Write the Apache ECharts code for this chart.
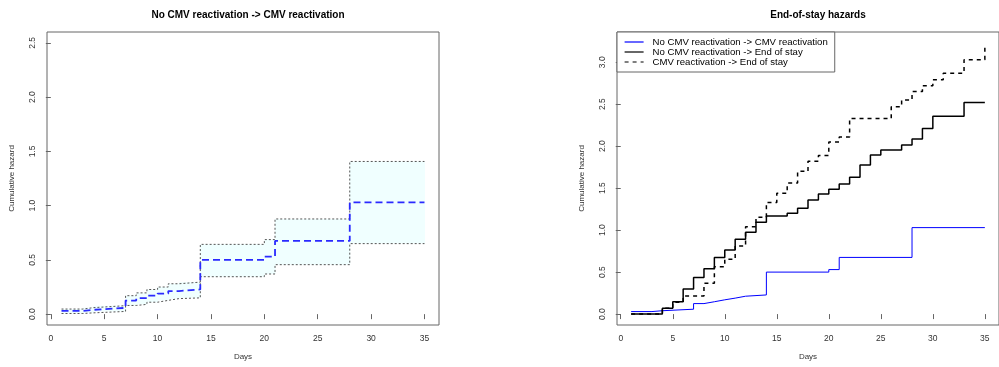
<!DOCTYPE html>
<html>
<head>
<meta charset="utf-8">
<title>Cumulative hazards</title>
<script src="https://cdn.jsdelivr.net/npm/echarts@6/dist/echarts.min.js"></script>
<style>
  html, body { margin: 0; padding: 0; background: #fff; }
  #chart { width: 999px; height: 367px; }
</style>
</head>
<body>
<div id="chart"></div>
<script>
// tick labels
const xTicks = [0, 5, 10, 15, 20, 25, 30, 35];
const yTicksLeft = [0, 0.5, 1, 1.5, 2, 2.5];
const yTicksRight = [0, 0.5, 1, 1.5, 2, 2.5, 3];

// No CMV reactivation -> CMV reactivation (estimate + confidence band)
const reactTimes  = [1, 3, 4, 7, 8, 9, 10, 11, 12, 14, 20, 21, 28, 35];
const reactHazard = [0.03, 0.04, 0.058, 0.125, 0.147, 0.17, 0.19, 0.213, 0.228, 0.5, 0.53, 0.675, 1.03, 1.03];
const reactLower  = [0.006, 0.012, 0.025, 0.08, 0.09, 0.11, 0.127, 0.143, 0.15, 0.345, 0.37, 0.456, 0.65, 0.65];
const reactUpper  = [0.047, 0.06, 0.078, 0.17, 0.196, 0.227, 0.25, 0.28, 0.295, 0.643, 0.687, 0.877, 1.407, 1.407];

// No CMV reactivation -> End of stay
const noReactEndTimes  = [1, 4, 5, 6, 7, 8, 9, 10, 11, 12, 13, 14, 16, 17, 18, 19, 20, 21, 22, 23, 24, 25, 27, 28, 29, 30, 33, 35];
const noReactEndHazard = [0, 0.07, 0.147, 0.298, 0.435, 0.54, 0.675, 0.763, 0.89, 0.974, 1.093, 1.168, 1.2, 1.26, 1.36, 1.43, 1.486, 1.55, 1.63, 1.776, 1.895, 1.955, 2.014, 2.086, 2.21, 2.355, 2.52, 2.52];

// CMV reactivation -> End of stay
const reactEndTimes  = [1, 4, 5, 6, 8, 9, 10, 11, 12, 13, 14, 15, 16, 17, 18, 19, 20, 21, 22, 26, 27, 28, 29, 30, 31, 33, 35];
const reactEndHazard = [0, 0.07, 0.14, 0.215, 0.366, 0.564, 0.652, 0.81, 1.04, 1.152, 1.33, 1.44, 1.56, 1.70, 1.82, 1.89, 2.05, 2.11, 2.33, 2.47, 2.55, 2.65, 2.72, 2.79, 2.87, 3.03, 3.21];

const seriesNames = [
  'No CMV reactivation -> CMV reactivation',
  'No CMV reactivation -> End of stay',
  'CMV reactivation -> End of stay'
];

const FONT = '"Liberation Sans", Arial, sans-serif';

const pairs = (xs, ys) => xs.map((x, i) => [x, ys[i]]);

// rectangles of the confidence band, one per step
const bandData = reactTimes.slice(0, -1).map((t, i) => [t, reactTimes[i + 1], reactLower[i], reactUpper[i]]);

const makeX = (gridIndex) => ({
  type: 'value',
  gridIndex: gridIndex,
  min: -0.36,
  max: 36.36,
  name: 'Days',
  nameLocation: 'middle',
  nameGap: 28,
  nameTextStyle: { fontFamily: FONT, fontSize: 8, color: '#333' },
  axisLine: { show: false },
  axisTick: { show: true, customValues: xTicks, length: 5, lineStyle: { color: '#666' } },
  axisLabel: { customValues: xTicks, margin: 9, fontFamily: FONT, fontSize: 8.5, color: '#333' },
  splitLine: { show: false }
});

const makeY = (gridIndex, min, max, ticks) => ({
  type: 'value',
  gridIndex: gridIndex,
  min: min,
  max: max,
  name: 'Cumulative hazard',
  nameLocation: 'middle',
  nameRotate: 90,
  nameGap: 31,
  nameTextStyle: { fontFamily: FONT, fontSize: 8, color: '#333' },
  axisLine: { show: false },
  axisTick: { show: true, customValues: ticks, length: 5, lineStyle: { color: '#666' } },
  axisLabel: {
    customValues: ticks, rotate: 90, margin: 10,
    fontFamily: FONT, fontSize: 8.5, color: '#333',
    formatter: (v) => v.toFixed(1)
  },
  splitLine: { show: false }
});

const stepLine = (name, xi, data, color, width, type, z) => ({
  name: name,
  type: 'line',
  xAxisIndex: xi,
  yAxisIndex: xi,
  step: 'end',
  data: data,
  symbol: 'none',
  showSymbol: false,
  z: z,
  lineStyle: { color: color, width: width, type: type },
  itemStyle: { color: color },
  emphasis: { disabled: true },
  silent: true
});

const chart = echarts.init(document.getElementById('chart'));

chart.setOption({
  animation: false,
  backgroundColor: '#fff',
  title: [
    { text: 'No CMV reactivation -> CMV reactivation', left: 243, top: 5, textAlign: 'center',
      textStyle: { fontFamily: FONT, fontSize: 10, fontWeight: 'bold', color: '#000' } },
    { text: 'End-of-stay hazards', left: 813, top: 5, textAlign: 'center',
      textStyle: { fontFamily: FONT, fontSize: 10, fontWeight: 'bold', color: '#000' } }
  ],
  legend: {
    data: seriesNames,
    left: 617,
    top: 32,
    orient: 'vertical',
    itemGap: 0,
    itemWidth: 19,
    itemHeight: 10,
    padding: [5, 7, 5, 7],
    backgroundColor: '#fff',
    borderColor: '#666',
    borderWidth: 1,
    borderRadius: 0,
    selectedMode: false,
    // hide the marker symbol, keep only the line sample
    itemStyle: { color: 'rgba(0,0,0,0)', borderWidth: 0, opacity: 0 },
    lineStyle: { width: 1.2 },
    textStyle: { fontFamily: FONT, fontSize: 9.6, color: '#000', padding: [0, 0, 0, 4] }
  },
  grid: [
    { left: 47, top: 32, width: 392, height: 293, show: true, borderColor: '#666', borderWidth: 1, backgroundColor: 'transparent' },
    { left: 617, top: 32, width: 392, height: 293, show: true, borderColor: '#666', borderWidth: 1, backgroundColor: 'transparent' }
  ],
  xAxis: [makeX(0), makeX(1)],
  yAxis: [makeY(0, -0.1, 2.6, yTicksLeft), makeY(1, -0.13, 3.36, yTicksRight)],
  series: [
    {
      name: 'band',
      type: 'custom',
      xAxisIndex: 0,
      yAxisIndex: 0,
      data: bandData,
      encode: { x: [0, 1], y: [2, 3] },
      z: 1,
      silent: true,
      renderItem: (params, api) => {
        const p0 = api.coord([api.value(0), api.value(3)]);
        const p1 = api.coord([api.value(1), api.value(2)]);
        return {
          type: 'rect',
          shape: { x: p0[0], y: p0[1], width: p1[0] - p0[0] + 0.5, height: p1[1] - p0[1] },
          style: { fill: '#f0ffff' }
        };
      }
    },
    stepLine('lower', 0, pairs(reactTimes, reactLower), '#555', 1, [2, 2], 2),
    stepLine('upper', 0, pairs(reactTimes, reactUpper), '#555', 1, [2, 2], 2),
    stepLine('estimate', 0, pairs(reactTimes, reactHazard), '#2a2aff', 1.8, [7, 4], 3),

    stepLine(seriesNames[0], 1, pairs(reactTimes, reactHazard), '#0000ff', 1, 'solid', 3),
    stepLine(seriesNames[1], 1, pairs(noReactEndTimes, noReactEndHazard), '#000', 1.5, 'solid', 3),
    stepLine(seriesNames[2], 1, pairs(reactEndTimes, reactEndHazard), '#000', 1.5, [4, 4], 3)
  ]
});
</script>
</body>
</html>
